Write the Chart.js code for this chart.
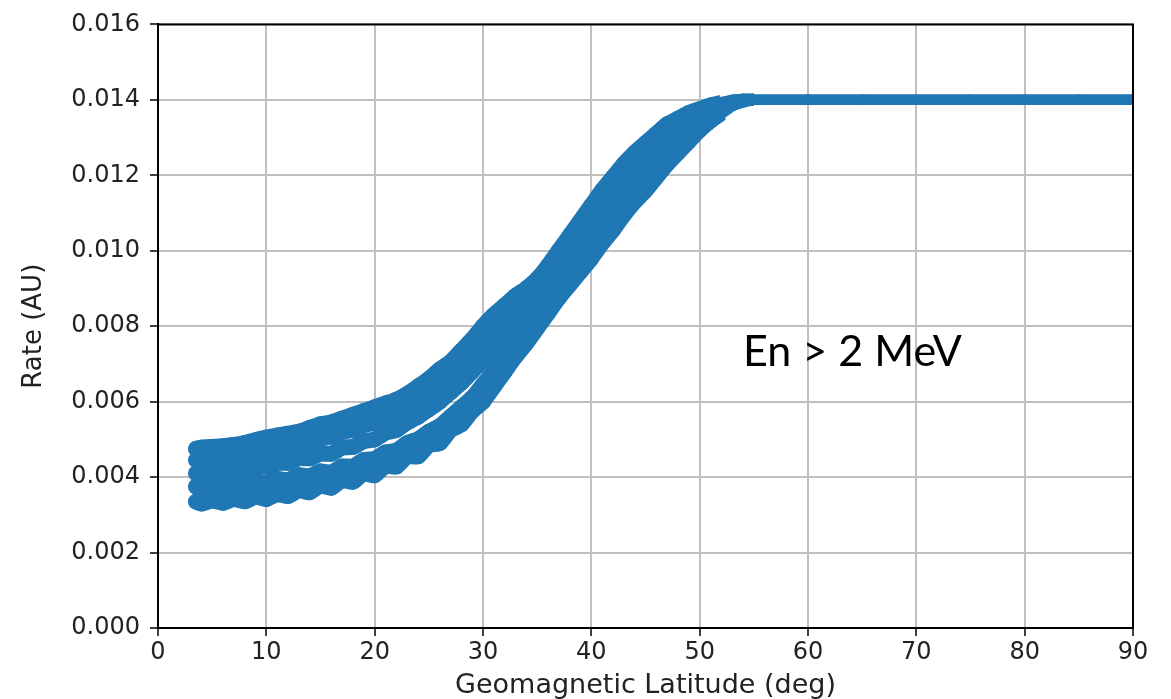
<!DOCTYPE html>
<html>
<head>
<meta charset="utf-8">
<script src="https://cdn.jsdelivr.net/npm/chart.js@4.4.1/dist/chart.umd.min.js"></script>
<style>
  html, body { margin: 0; padding: 0; background: #fff; }
  #wrap { width: 1171px; height: 699px; }
</style>
</head>
<body>
<div id="wrap"><canvas id="chart" width="1171" height="699"></canvas></div>
<script>
// latitude samples (deg) shared by every track
const latitude = [3.5, 4, 5, 6, 7, 8, 9, 10, 11, 12, 13, 14, 15, 16, 17, 18, 19, 20,
  21, 22, 23, 24, 25, 26, 27, 28, 29, 30, 31, 32, 33, 34, 35, 36, 37, 38, 39, 40,
  41, 42, 43, 44, 45, 46, 47, 48, 49, 50, 51, 52, 53, 54, 55, 60, 65, 70, 75, 80, 85, 90];

// rate values (AU), one array per orbit track, bottom to top
const track1 = [0.00335, 0.00330, 0.00338, 0.00332, 0.00342, 0.00336, 0.00348, 0.00342, 0.00355, 0.00350,
  0.00365, 0.00360, 0.00378, 0.00372, 0.00392, 0.00388, 0.00410, 0.00405, 0.00430, 0.00428,
  0.00455, 0.00455, 0.00485, 0.00490, 0.00525, 0.00540, 0.00575, 0.00600, 0.00640, 0.00680,
  0.00720, 0.00755, 0.00795, 0.00835, 0.00875, 0.00910, 0.00945, 0.00980, 0.01020, 0.01055,
  0.01095, 0.01130, 0.01160, 0.01195, 0.01230, 0.01260, 0.01290, 0.01320, 0.01345, 0.01365,
  0.01385, 0.01395, 0.01400, 0.01400, 0.01400, 0.01400, 0.01400, 0.01400, 0.01400, 0.01400];
const track2 = [0.00375, 0.00370, 0.00378, 0.00372, 0.00382, 0.00378, 0.00388, 0.00385, 0.00395, 0.00392,
  0.00405, 0.00402, 0.00415, 0.00412, 0.00428, 0.00428, 0.00445, 0.00448, 0.00465, 0.00470,
  0.00490, 0.00500, 0.00520, 0.00535, 0.00560, 0.00585, 0.00610, 0.00645, 0.00680, 0.00720,
  0.00755, 0.00790, 0.00830, 0.00870, 0.00910, 0.00950, 0.00985, 0.01020, 0.01060, 0.01095,
  0.01130, 0.01165, 0.01195, 0.01230, 0.01260, 0.01290, 0.01315, 0.01335, 0.01360, 0.01375,
  0.01390, 0.01398, 0.01400, 0.01400, 0.01400, 0.01400, 0.01400, 0.01400, 0.01400, 0.01400];
const track3 = [0.00410, 0.00405, 0.00412, 0.00410, 0.00420, 0.00418, 0.00428, 0.00428, 0.00438, 0.00438,
  0.00450, 0.00450, 0.00462, 0.00462, 0.00478, 0.00480, 0.00495, 0.00500, 0.00518, 0.00525,
  0.00545, 0.00560, 0.00580, 0.00600, 0.00625, 0.00650, 0.00680, 0.00710, 0.00745, 0.00780,
  0.00810, 0.00845, 0.00875, 0.00915, 0.00955, 0.00995, 0.01030, 0.01065, 0.01105, 0.01140,
  0.01175, 0.01205, 0.01235, 0.01265, 0.01295, 0.01320, 0.01340, 0.01355, 0.01372, 0.01385,
  0.01395, 0.01400, 0.01400, 0.01400, 0.01400, 0.01400, 0.01400, 0.01400, 0.01400, 0.01400];
const track4 = [0.00445, 0.00442, 0.00448, 0.00448, 0.00455, 0.00458, 0.00465, 0.00468, 0.00475, 0.00480,
  0.00488, 0.00492, 0.00502, 0.00508, 0.00520, 0.00525, 0.00538, 0.00545, 0.00560, 0.00570,
  0.00588, 0.00605, 0.00625, 0.00645, 0.00670, 0.00695, 0.00725, 0.00755, 0.00790, 0.00820,
  0.00850, 0.00875, 0.00900, 0.00940, 0.00980, 0.01020, 0.01055, 0.01095, 0.01135, 0.01170,
  0.01205, 0.01235, 0.01260, 0.01290, 0.01315, 0.01335, 0.01355, 0.01368, 0.01380, 0.01390,
  0.01397, 0.01400, 0.01400, 0.01400, 0.01400, 0.01400, 0.01400, 0.01400, 0.01400, 0.01400];
const track5 = [0.00475, 0.00478, 0.00480, 0.00482, 0.00485, 0.00490, 0.00498, 0.00505, 0.00510, 0.00515,
  0.00520, 0.00530, 0.00540, 0.00545, 0.00555, 0.00565, 0.00575, 0.00585, 0.00595, 0.00605,
  0.00620, 0.00640, 0.00660, 0.00685, 0.00705, 0.00735, 0.00765, 0.00800, 0.00830, 0.00855,
  0.00880, 0.00900, 0.00925, 0.00960, 0.01000, 0.01040, 0.01080, 0.01120, 0.01160, 0.01195,
  0.01230, 0.01260, 0.01285, 0.01310, 0.01335, 0.01350, 0.01365, 0.01375, 0.01385, 0.01392,
  0.01398, 0.01400, 0.01400, 0.01400, 0.01400, 0.01400, 0.01400, 0.01400, 0.01400, 0.01400];

const tracks = [track1, track2, track3, track4, track5];
const xTicks = [0, 10, 20, 30, 40, 50, 60, 70, 80, 90];
const yTicks = [0, 0.002, 0.004, 0.006, 0.008, 0.010, 0.012, 0.014, 0.016];
const annotation = 'En > 2 MeV';

const blue = '#1f77b4';
const tickFont = { family: 'DejaVu Sans', size: 24 };

// top and right spines plus the text label
const framePlugin = {
  id: 'frame',
  afterDraw(chart) {
    const { ctx, chartArea } = chart;
    ctx.save();
    ctx.strokeStyle = '#000';
    ctx.lineWidth = 2;
    ctx.beginPath();
    ctx.moveTo(chartArea.left, chartArea.top);
    ctx.lineTo(chartArea.right, chartArea.top);
    ctx.lineTo(chartArea.right, chartArea.bottom);
    ctx.stroke();
    ctx.fillStyle = '#000';
    ctx.font = '43px Lato';
    ctx.textBaseline = 'alphabetic';
    ctx.fillText(annotation, 743, 366);
    ctx.restore();
  }
};

// the plateau is a single thin line of markers, the rising part a thick cloud
function segWidth(x) {
  if (x >= 55) return 10;
  if (x >= 52) return 12;
  return 16;
}
function dotRadius(x) {
  if (x >= 55) return 5;
  if (x >= 52) return 6;
  return 8;
}

const datasets = tracks.map((t, i) => ({
  label: 'track ' + (i + 1),
  data: latitude.map((x, j) => ({ x: x, y: t[j] })),
  showLine: true,
  borderColor: blue,
  backgroundColor: blue,
  borderWidth: 16,
  segment: { borderWidth: c => segWidth(c.p0.parsed.x) },
  pointRadius: c => (c.parsed ? dotRadius(c.parsed.x) : 8),
  pointBorderWidth: 0,
  tension: 0.2
}));

new Chart(document.getElementById('chart').getContext('2d'), {
  type: 'scatter',
  data: { datasets: datasets },
  options: {
    responsive: false,
    animation: false,
    layout: { padding: { left: 0, top: 17, right: 38, bottom: 0 } },
    plugins: { legend: { display: false }, tooltip: { enabled: false } },
    scales: {
      x: {
        type: 'linear', min: 0, max: 90,
        afterBuildTicks: s => { s.ticks = xTicks.map(v => ({ value: v })); },
        afterFit: s => { s.height = 71; },
        ticks: { font: tickFont, color: '#222', padding: 2, maxRotation: 0 },
        grid: { color: '#c0c0c0', lineWidth: 2, tickLength: 8, tickColor: '#000', tickWidth: 1.5 },
        border: { color: '#000', width: 2 },
        title: { display: true, text: 'Geomagnetic Latitude (deg)', color: '#222',
          font: { family: 'DejaVu Sans', size: 27, lineHeight: 1.0 }, padding: { top: 0, bottom: 0 } }
      },
      y: {
        type: 'linear', min: 0, max: 0.016,
        afterBuildTicks: s => { s.ticks = yTicks.map(v => ({ value: v })); },
        afterFit: s => { s.width = 158; },
        ticks: { font: tickFont, color: '#222', padding: 10, callback: v => v.toFixed(3) },
        grid: { color: '#c0c0c0', lineWidth: 2, tickLength: 8, tickColor: '#000', tickWidth: 1.5 },
        border: { color: '#000', width: 2 },
        title: { display: true, text: 'Rate (AU)', color: '#222',
          font: { family: 'DejaVu Sans', size: 26 }, padding: { top: 19, bottom: 0 } }
      }
    }
  },
  plugins: [framePlugin]
});
</script>
</body>
</html>
